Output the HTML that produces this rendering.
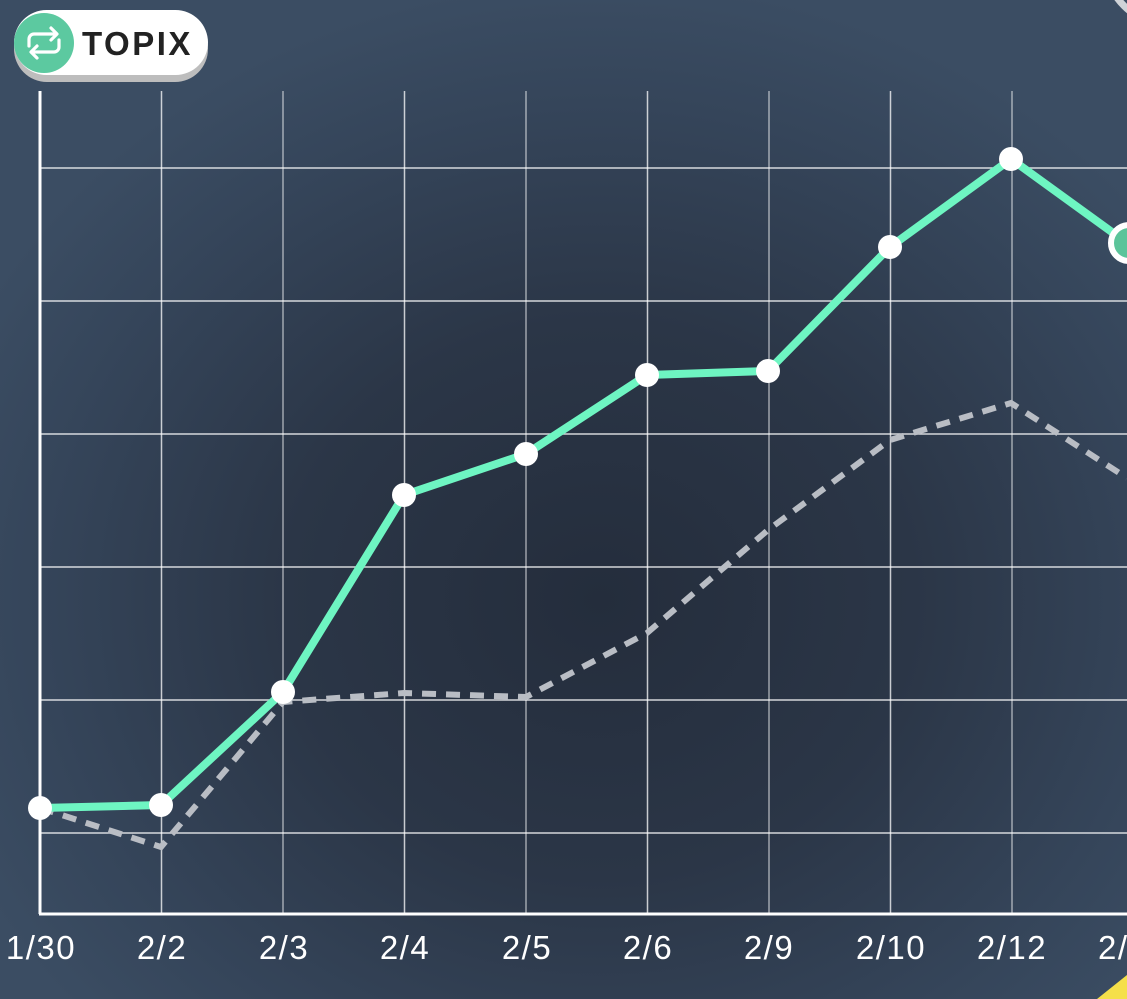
<!DOCTYPE html>
<html>
<head>
<meta charset="utf-8">
<style>
html,body{margin:0;padding:0;}
body{width:1127px;height:999px;overflow:hidden;position:relative;
background:radial-gradient(ellipse 700px 620px at 600px 600px,#242d3c 0%,#2b3647 45%,#35455a 80%,#3b4d63 100%);
font-family:"Liberation Sans",Roboto,sans-serif;}
svg{position:absolute;left:0;top:0;}
</style>
</head>
<body>
<svg width="1127" height="999" viewBox="0 0 1127 999" xmlns="http://www.w3.org/2000/svg">
  <!-- top-right arc -->
  <circle cx="1175" cy="-45" r="72" fill="none" stroke="#cfd3d8" stroke-width="7"/>
  <!-- grid horizontal -->
  <g stroke="#ffffff" stroke-opacity="0.8" stroke-width="1.5">
    <line x1="41" y1="168" x2="1127" y2="168"/>
    <line x1="41" y1="301" x2="1127" y2="301"/>
    <line x1="41" y1="434" x2="1127" y2="434"/>
    <line x1="41" y1="567" x2="1127" y2="567"/>
    <line x1="41" y1="700" x2="1127" y2="700"/>
    <line x1="41" y1="833" x2="1127" y2="833"/>
  </g>
  <g stroke="#ffffff" stroke-opacity="0.75" stroke-width="1.5">
    <line x1="161.5" y1="91" x2="161.5" y2="913"/>
    <line x1="283" y1="91" x2="283" y2="913" stroke-opacity="0.55"/>
    <line x1="404.5" y1="91" x2="404.5" y2="913"/>
    <line x1="526" y1="91" x2="526" y2="913" stroke-opacity="0.55"/>
    <line x1="647.5" y1="91" x2="647.5" y2="913"/>
    <line x1="769" y1="91" x2="769" y2="913" stroke-opacity="0.55"/>
    <line x1="890.5" y1="91" x2="890.5" y2="913"/>
    <line x1="1012" y1="91" x2="1012" y2="913" stroke-opacity="0.55"/>
  </g>
  <!-- axes -->
  <line x1="40" y1="91" x2="40" y2="914" stroke="#ffffff" stroke-width="3"/>
  <line x1="39" y1="914" x2="1127" y2="914" stroke="#ffffff" stroke-width="3"/>
  <!-- dashed series -->
  <polyline fill="none" stroke="#b9bdc4" stroke-width="6" stroke-dasharray="14 10"
    points="40,808 161,847 283,702 404,693 526,697 647,633 768,530 890,440 1011,403 1127,478"/>
  <!-- green series -->
  <polyline fill="none" stroke="#6ef5c2" stroke-width="8" stroke-linejoin="round"
    points="40,808 161,805 283,692 404,495 526,454 647,375 768,371 890,247 1011,159 1127,243"/>
  <g fill="#ffffff">
    <circle cx="40" cy="808" r="12"/>
    <circle cx="161" cy="805" r="12"/>
    <circle cx="283" cy="692" r="12"/>
    <circle cx="404" cy="495" r="12"/>
    <circle cx="526" cy="454" r="12"/>
    <circle cx="647" cy="375" r="12"/>
    <circle cx="768" cy="371" r="12"/>
    <circle cx="890" cy="247" r="12"/>
    <circle cx="1011" cy="159" r="12"/>
  </g>
  <circle cx="1129" cy="243" r="18" fill="#5bc49a" stroke="#ffffff" stroke-width="6"/>
  <!-- x labels -->
  <g fill="#ffffff" font-family="Liberation Sans, sans-serif" font-size="33" letter-spacing="1.5" text-anchor="middle">
    <text x="41" y="959">1/30</text>
    <text x="162" y="959">2/2</text>
    <text x="284" y="959">2/3</text>
    <text x="405" y="959">2/4</text>
    <text x="527" y="959">2/5</text>
    <text x="648" y="959">2/6</text>
    <text x="769" y="959">2/9</text>
    <text x="891" y="959">2/10</text>
    <text x="1012" y="959">2/12</text>
  </g>
  <text x="1098" y="959" fill="#ffffff" font-family="Liberation Sans, sans-serif" font-size="33" letter-spacing="1.5">2/</text>
  <!-- yellow corner -->
  <polygon points="1097,999 1127,975 1127,999" fill="#f5e04a"/>
  <!-- badge -->
  <rect x="14" y="15" width="194" height="67" rx="33" fill="#bdbdbd"/>
  <rect x="14" y="10" width="194" height="65" rx="32.5" fill="#ffffff"/>
  <circle cx="44" cy="43" r="30" fill="#5cc9a0"/>
  <g fill="none" stroke="#ffffff" stroke-width="3.2" stroke-linecap="round" stroke-linejoin="round">
    <path d="M29,46 v-7 a5,5 0 0 1 5,-5 h22"/>
    <path d="M51,28 l6,6 l-6,6"/>
    <path d="M59,40 v7 a5,5 0 0 1 -5,5 h-22"/>
    <path d="M37,46 l-6,6 l6,6"/>
  </g>
  <text x="82" y="55" fill="#222222" font-family="Liberation Sans, sans-serif" font-weight="bold" font-size="33" letter-spacing="2.5">TOPIX</text>
</svg>
</body>
</html>
